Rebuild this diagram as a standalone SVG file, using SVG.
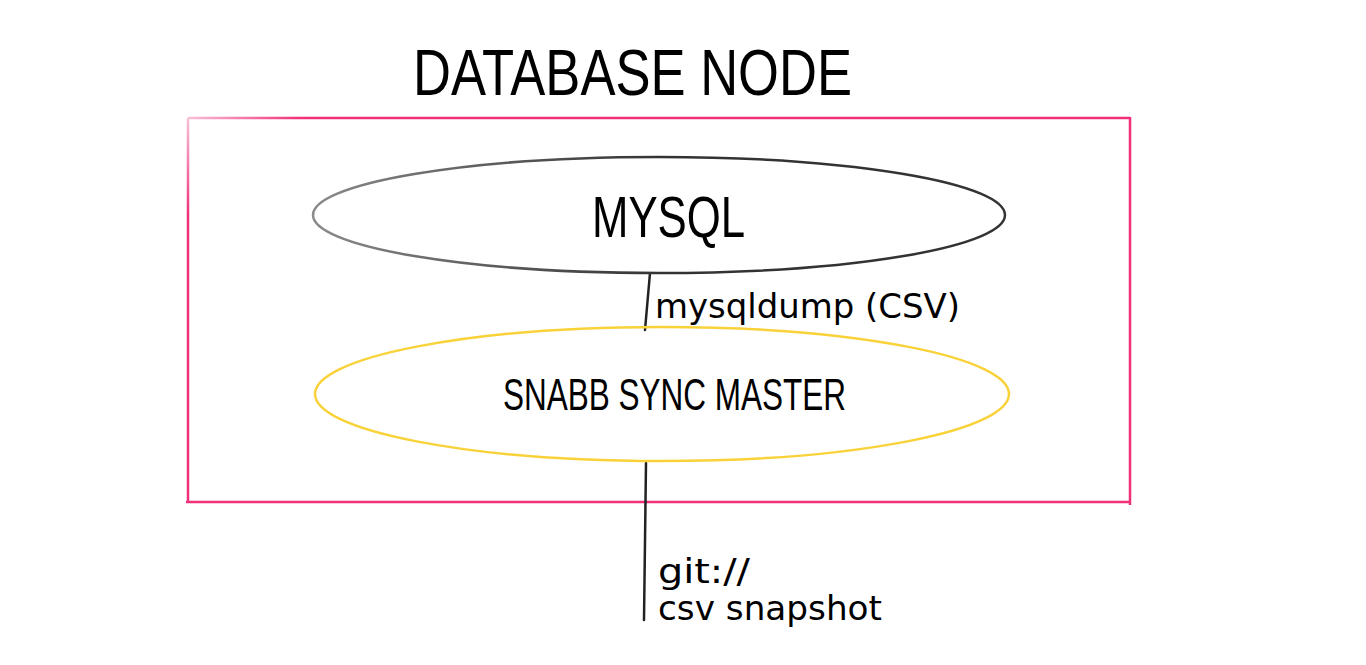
<svg xmlns="http://www.w3.org/2000/svg" width="1366" height="665" viewBox="0 0 1366 665">
<style>
.hand{font-family:"Liberation Sans Narrow","Liberation Sans",Arial,sans-serif;fill:#000;}
.lbl{font-family:"DejaVu Sans","Noto Sans",sans-serif;fill:#000;font-size:33px;}
.link{stroke:#222;stroke-width:2.5;fill:none;stroke-linecap:round;}
</style>
<defs>
<linearGradient id="pinkTop" gradientUnits="userSpaceOnUse" x1="188" y1="0" x2="1130" y2="0">
<stop offset="0" stop-color="#f8c0d6"/><stop offset="0.12" stop-color="#f0307a"/><stop offset="1" stop-color="#f0307a"/>
</linearGradient>
<linearGradient id="pinkLeft" gradientUnits="userSpaceOnUse" x1="0" y1="118" x2="0" y2="502">
<stop offset="0" stop-color="#f8c0d6"/><stop offset="0.25" stop-color="#f0307a"/><stop offset="1" stop-color="#f0307a"/>
</linearGradient>
<linearGradient id="grayEl" x1="0" y1="0" x2="1" y2="0">
<stop offset="0" stop-color="#8a8a8a"/><stop offset="0.5" stop-color="#333"/><stop offset="1" stop-color="#333"/>
</linearGradient>
</defs>
<text class="hand" x="413" y="95" font-size="64" textLength="439" lengthAdjust="spacingAndGlyphs">DATABASE NODE</text>
<g id="database-node">
<line x1="188" y1="118" x2="1130" y2="118" stroke="url(#pinkTop)" stroke-width="2.5"/>
<line x1="188" y1="118" x2="188" y2="502" stroke="url(#pinkLeft)" stroke-width="2.5"/>
<line x1="1130" y1="117" x2="1130" y2="505" stroke="#f0307a" stroke-width="2.5"/>
<line x1="186" y1="502" x2="1131" y2="502" stroke="#f0307a" stroke-width="2.5"/>
</g>
<g id="connectors">
<line class="link" x1="650" y1="273" x2="645" y2="330"/>
<line class="link" x1="646" y1="463" x2="644" y2="620"/>
</g>
<g id="mysql">
<ellipse cx="659" cy="215" rx="346" ry="58" fill="#fff" stroke="url(#grayEl)" stroke-width="2.5"/>
<text class="hand" x="592" y="237" font-size="58" textLength="153" lengthAdjust="spacingAndGlyphs">MYSQL</text>
</g>
<g id="snabb-sync-master">
<ellipse cx="662" cy="394" rx="347" ry="67" fill="none" stroke="#f9d23a" stroke-width="2.5"/>
<text class="hand" x="503" y="410" font-size="44" textLength="343" lengthAdjust="spacingAndGlyphs">SNABB SYNC MASTER</text>
</g>
<text class="lbl" x="655" y="318" textLength="305" lengthAdjust="spacingAndGlyphs">mysqldump (CSV)</text>
<text class="lbl" x="658" y="583" textLength="92" lengthAdjust="spacingAndGlyphs">git://</text>
<text class="lbl" x="658" y="620" textLength="224" lengthAdjust="spacingAndGlyphs">csv snapshot</text>
</svg>
